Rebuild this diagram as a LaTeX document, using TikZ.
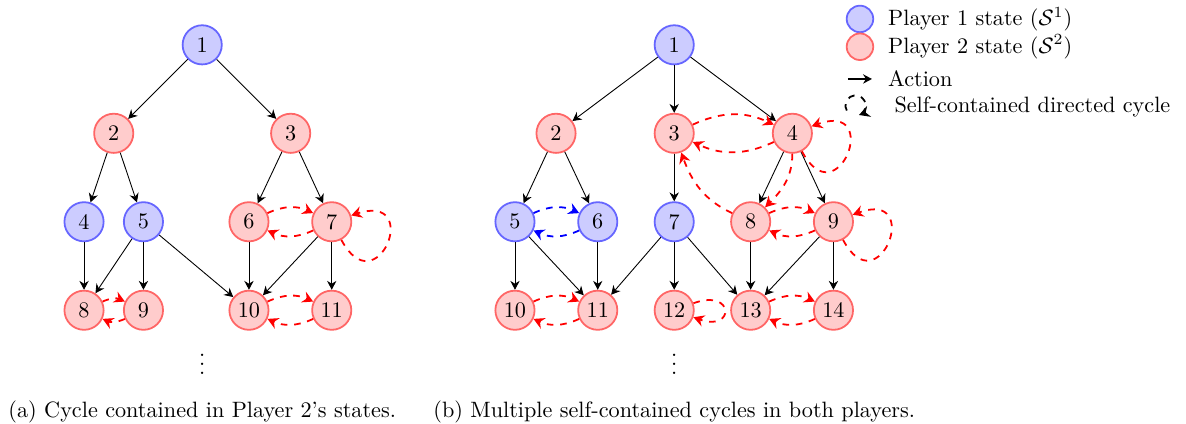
\documentclass[tikz,border=0pt]{standalone}
\usepackage{amsmath}
\usepackage{amssymb}
\usetikzlibrary{arrows.meta,positioning,calc}

\tikzset{
  pone/.style={circle, draw=blue!60, fill=blue!20, thick, minimum size=0.62cm, inner sep=0pt},
  ptwo/.style={circle, draw=red!60, fill=red!20, thick, minimum size=0.62cm, inner sep=0pt},
  act/.style={-{Stealth[length=4pt,width=4.2pt,inset=1.3pt]}},
  cyc/.style={-{Stealth[length=4.8pt,width=5.2pt,inset=1.6pt]}, thick, dashed},
  legtext/.style={anchor=west, inner sep=0pt},
}

\begin{document}
\begin{tikzpicture}
				\useasboundingbox (0,0) rectangle (18.77,6.71);

				% (a) Cycle contained in Player 2's states
				\node[pone] (a1) at (3.2,6.0) {1};
				\node[ptwo] (a2) at (1.8,4.6) {2};
				\node[ptwo] (a3) at (4.6,4.6) {3};
				\node[pone] (a4) at (1.33,3.2) {4};
				\node[pone] (a5) at (2.27,3.2) {5};
				\node[ptwo] (a6) at (3.94,3.2) {6};
				\node[ptwo] (a7) at (5.25,3.2) {7};
				\node[ptwo] (a8) at (1.33,1.8) {8};
				\node[ptwo] (a9) at (2.27,1.8) {9};
				\node[ptwo] (a10) at (3.94,1.8) {10};
				\node[ptwo] (a11) at (5.25,1.8) {11};
				\node (adots) at (3.2,1.05) {$\vdots$};

				\foreach \s/\t in {a1/a2,a1/a3,a2/a4,a2/a5,a3/a6,a3/a7,a4/a8,a5/a8,a5/a9,a5/a10,a6/a10,a7/a10,a7/a11}
					\draw[act] (\s) -- (\t);

				\draw[cyc, red] (a6) to[bend left=25] (a7);
				\draw[cyc, red] (a7) to[bend left=25] (a6);
				\draw[cyc, red] (a8) to[bend left=25] (a9);
				\draw[cyc, red] (a9) to[bend left=25] (a8);
				\draw[cyc, red] (a10) to[bend left=25] (a11);
				\draw[cyc, red] (a11) to[bend left=25] (a10);
				\draw[cyc, red] (a7.-62) .. controls +(-62:1.2) and +(18:1.2) .. (a7.18);

				\node[anchor=base] (capa) at (3.2,0.11) {(a) Cycle contained in Player 2's states.};

				% (b) Multiple self-contained cycles in both players
				\node[pone] (b1) at (10.67,6.0) {1};
				\node[ptwo] (b2) at (8.8,4.6) {2};
				\node[ptwo] (b3) at (10.67,4.6) {3};
				\node[ptwo] (b4) at (12.54,4.6) {4};
				\node[pone] (b5) at (8.15,3.2) {5};
				\node[pone] (b6) at (9.46,3.2) {6};
				\node[pone] (b7) at (10.67,3.2) {7};
				\node[ptwo] (b8) at (11.88,3.2) {8};
				\node[ptwo] (b9) at (13.19,3.2) {9};
				\node[ptwo] (b10) at (8.15,1.8) {10};
				\node[ptwo] (b11) at (9.46,1.8) {11};
				\node[ptwo] (b12) at (10.67,1.8) {12};
				\node[ptwo] (b13) at (11.88,1.8) {13};
				\node[ptwo] (b14) at (13.19,1.8) {14};
				\node (bdots) at (10.67,1.05) {$\vdots$};

				\foreach \s/\t in {b1/b2,b1/b3,b1/b4,b2/b5,b2/b6,b3/b7,b4/b8,b4/b9,b5/b10,b5/b11,b6/b11,b7/b11,b7/b12,b7/b13,b8/b13,b9/b13,b9/b14}
					\draw[act] (\s) -- (\t);

				\draw[cyc, blue] (b5) to[bend left=25] (b6);
				\draw[cyc, blue] (b6) to[bend left=25] (b5);
				\draw[cyc, red] (b3) to[bend left=25] (b4);
				\draw[cyc, red] (b4) to[bend left=25] (b3);
				\draw[cyc, red] (b8) to[bend left=25] (b9);
				\draw[cyc, red] (b9) to[bend left=25] (b8);
				\draw[cyc, red] (b10) to[bend left=25] (b11);
				\draw[cyc, red] (b11) to[bend left=25] (b10);
				\draw[cyc, red] (b13) to[bend left=25] (b14);
				\draw[cyc, red] (b14) to[bend left=25] (b13);
				\draw[cyc, red] (b4) to[out=-90, in=45] (b8);
				\draw[cyc, red] (b8) to[out=155, in=-70] (b3);
				\draw[cyc, red] (b4.-62) .. controls +(-62:1.2) and +(20:1.2) .. (b4.20);
				\draw[cyc, red] (b9.-62) .. controls +(-62:1.2) and +(20:1.2) .. (b9.20);
				\draw[cyc, red] (b12.20) .. controls +(20:0.7) and +(-20:0.7) .. (b12.-20);

				\node[anchor=base] (capb) at (10.67,0.11) {(b) Multiple self-contained cycles in both players.};

				% Legend
				\node[pone, minimum size=0.42cm] (lone) at (13.61,6.41) {};
				\node[ptwo, minimum size=0.42cm] (ltwo) at (13.61,5.97) {};
				\coordinate (lfrom) at (13.42,5.46);
				\coordinate (lto) at (13.80,5.46);
				\draw[act, thick] (lfrom) -- (lto);
				\coordinate (lcyc) at (13.54,5.04);
				\draw[cyc] ($(lcyc)+(210:0.16)$) arc[start angle=210, end angle=-70, radius=0.16];
				\node[legtext] at (14.05,6.41) {Player 1 state ($\mathcal{S}^1$)};
				\node[legtext] at (14.05,5.97) {Player 2 state ($\mathcal{S}^2$)};
				\node[legtext] at (14.05,5.46) {Action};
				\node[legtext] at (14.15,5.02) {Self-contained directed cycle};
			\end{tikzpicture}
\end{document}
